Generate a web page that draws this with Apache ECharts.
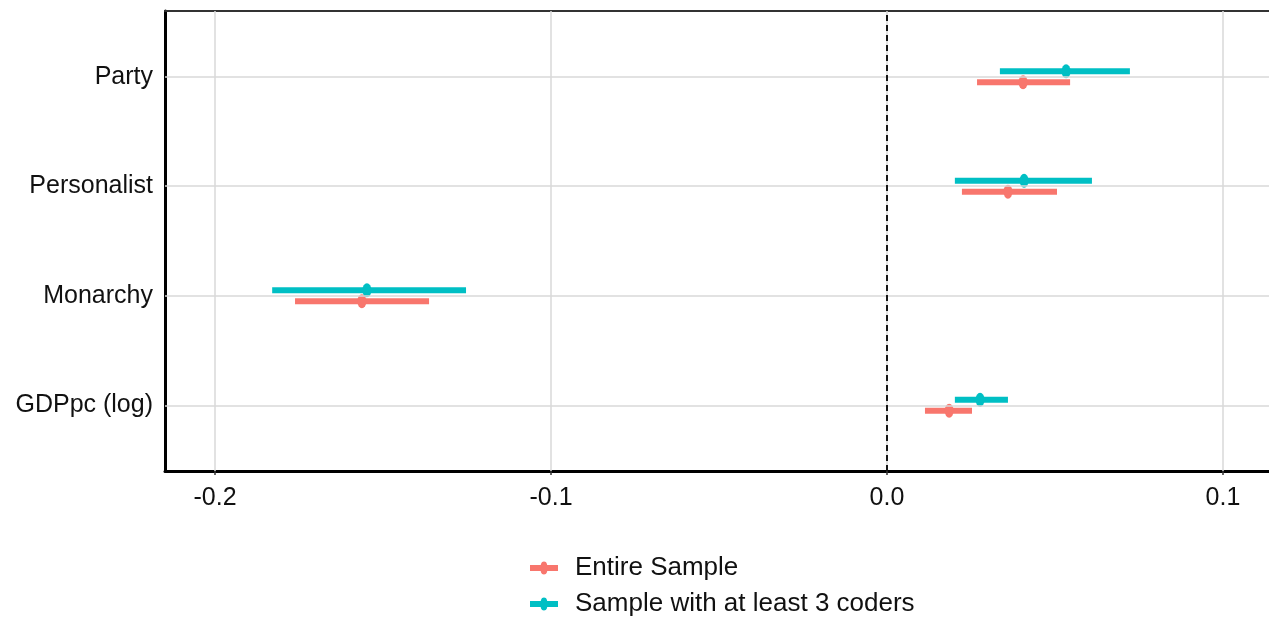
<!DOCTYPE html>
<html>
<head>
<meta charset="utf-8">
<script src="https://cdn.jsdelivr.net/npm/echarts@6/dist/echarts.min.js"></script>
<style>
html,body{margin:0;padding:0;background:#fff;}
#chart{width:1269px;height:617px;}
</style>
</head>
<body>
<div id="chart"></div>
<script>
// Categories from bottom (position 1) to top (position 4)
const categories = ['GDPpc (log)', 'Monarchy', 'Personalist', 'Party'];
const xTicks = [-0.2, -0.1, 0.0, 0.1];
const xTickLabels = ['-0.2', '-0.1', '0.0', '0.1'];

// Entire Sample
const entireEst = [0.0185, -0.1563, 0.0360, 0.0405];
const entireLo  = [0.0113, -0.1762, 0.0223, 0.0268];
const entireHi  = [0.0253, -0.1363, 0.0506, 0.0545];

// Sample with at least 3 coders
const coderEst = [0.0277, -0.1548, 0.0408, 0.0533];
const coderLo  = [0.0202, -0.1830, 0.0202, 0.0336];
const coderHi  = [0.0360, -0.1253, 0.0610, 0.0723];

const seriesNames = ['Entire Sample', 'Sample with at least 3 coders'];
const colors = ['#F8766D', '#00BFC4'];
const dodge = [-0.05, 0.05];
const FONT = "'Liberation Sans', Arial, sans-serif";
const AXIS_FS = 25;
const LEG_FS = 26;

function rangeData(lo, hi, off) {
  return lo.map((v, i) => [v, hi[i], i + 1 + off]);
}
function pointData(est, off) {
  return est.map((v, i) => [v, i + 1 + off]);
}
function renderRange(color) {
  return function (params, api) {
    const p1 = api.coord([api.value(0), api.value(2)]);
    const p2 = api.coord([api.value(1), api.value(2)]);
    return {
      type: 'line',
      shape: { x1: p1[0], y1: p1[1], x2: p2[0], y2: p2[1] },
      style: { stroke: color, lineWidth: 6, lineCap: 'butt' }
    };
  };
}
const blob = 'path://M0,5h28v6h-28z M14,1.5 C17,1.5 17.5,5 17.5,8 C17.5,11 17,14.5 14,14.5 C11,14.5 10.5,11 10.5,8 C10.5,5 11,1.5 14,1.5 z';

const chart = echarts.init(document.getElementById('chart'), null, { renderer: 'canvas' });

const gridLinesX = xTicks.map(v => ({ xAxis: v }));
const gridLinesY = categories.map((c, i) => ({ yAxis: i + 1 }));

function makeLegend(idx, top) {
  return {
    orient: 'vertical',
    left: 530,
    top: top,
    padding: 0,
    itemWidth: 28,
    itemHeight: 16,
    data: [{ name: seriesNames[idx], icon: blob, itemStyle: { color: colors[idx] } }],
    textStyle: { fontSize: LEG_FS, color: '#111', fontFamily: FONT, padding: [0, 0, 0, 12] }
  };
}

const option = {
  backgroundColor: '#ffffff',
  animation: false,
  textStyle: { fontFamily: FONT },
  grid: { left: 165, right: 0, top: 11, bottom: 146, containLabel: false },
  legend: [makeLegend(0, 555), makeLegend(1, 591)],
  xAxis: [{
    type: 'value',
    min: -0.2149,
    max: 0.1137,
    axisLine: { show: true, onZero: false, lineStyle: { color: '#000', width: 3 } },
    axisTick: { show: true, customValues: xTicks, length: 4, lineStyle: { color: '#333', width: 1.5 } },
    axisLabel: {
      customValues: xTicks,
      formatter: v => xTickLabels[xTicks.findIndex(t => Math.abs(t - v) < 1e-9)],
      fontSize: AXIS_FS, color: '#111', margin: 15, fontFamily: FONT
    },
    splitLine: { show: false }
  }, {
    type: 'value',
    position: 'top',
    min: -0.2149,
    max: 0.1137,
    axisLine: { show: true, onZero: false, lineStyle: { color: '#333', width: 2 } },
    axisTick: { show: false },
    axisLabel: { show: false },
    splitLine: { show: false }
  }],
  yAxis: {
    type: 'value',
    min: 0.4,
    max: 4.6,
    axisLine: { show: true, onZero: false, lineStyle: { color: '#000', width: 3 } },
    axisTick: { show: false },
    axisLabel: {
      customValues: [1, 2, 3, 4],
      formatter: v => categories[Math.round(v) - 1],
      fontSize: AXIS_FS, color: '#111', margin: 12, fontFamily: FONT,
      padding: [5, 0, 0, 0]
    },
    splitLine: { show: false }
  },
  series: [
    {
      type: 'line',
      name: '__grid',
      data: [],
      z: 0,
      silent: true,
      markLine: {
        silent: true,
        symbol: 'none',
        label: { show: false },
        lineStyle: { color: '#d9d9d9', width: 1.5, type: 'solid' },
        data: gridLinesX.concat(gridLinesY)
      }
    },
    {
      type: 'line',
      name: '__zero',
      data: [],
      z: 1,
      silent: true,
      markLine: {
        silent: true,
        symbol: 'none',
        label: { show: false },
        lineStyle: { color: '#000', width: 1.8, type: [6, 4] },
        data: [{ xAxis: 0 }]
      }
    },
    {
      type: 'custom',
      name: seriesNames[0],
      renderItem: renderRange(colors[0]),
      data: rangeData(entireLo, entireHi, dodge[0]),
      encode: { x: [0, 1], y: 2 },
      itemStyle: { color: colors[0] },
      z: 3
    },
    {
      type: 'custom',
      name: seriesNames[1],
      renderItem: renderRange(colors[1]),
      data: rangeData(coderLo, coderHi, dodge[1]),
      encode: { x: [0, 1], y: 2 },
      itemStyle: { color: colors[1] },
      z: 3
    },
    {
      type: 'scatter',
      name: seriesNames[0],
      data: pointData(entireEst, dodge[0]),
      symbol: 'circle',
      symbolSize: [9, 14],
      itemStyle: { color: colors[0], opacity: 1 },
      z: 4
    },
    {
      type: 'scatter',
      name: seriesNames[1],
      data: pointData(coderEst, dodge[1]),
      symbol: 'circle',
      symbolSize: [9, 14],
      itemStyle: { color: colors[1], opacity: 1 },
      z: 4
    }
  ]
};
chart.setOption(option);
</script>
</body>
</html>
